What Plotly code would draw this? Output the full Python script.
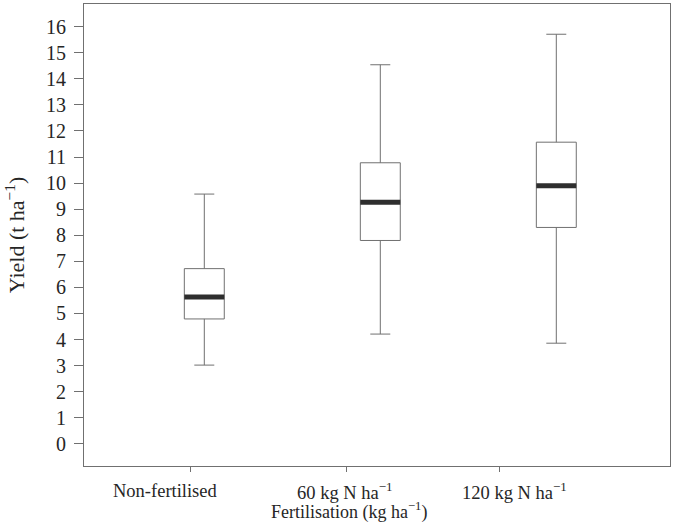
import plotly.graph_objects as go

# Fertilisation treatments and yield summary statistics (t ha-1)
categories = ["Non-fertilised", "60 kg N ha<sup>−1</sup>", "120 kg N ha<sup>−1</sup>"]
lower_whisker = [3.02, 4.21, 3.86]
q1 = [4.79, 7.80, 8.30]
median = [5.63, 9.27, 9.90]
q3 = [6.72, 10.78, 11.57]
upper_whisker = [9.58, 14.54, 15.71]
y_ticks = list(range(0, 17))

FONT = "Liberation Serif, Times New Roman, serif"
TEXT = "#262626"
LINE = "#707070"
BOX_W = 0.227
positions = list(range(len(categories)))
# axis tick marks and their labels sit slightly apart from the box centres
tick_offsets = [-0.08, -0.193, -0.324]
label_offsets = [-0.223, -0.206, -0.235]
tick_pos = [p + o for p, o in zip(positions, tick_offsets)]
label_pos = [p + o for p, o in zip(positions, label_offsets)]

fig = go.Figure()
fig.add_trace(go.Box(
    x=positions,
    q1=q1, median=median, q3=q3,
    lowerfence=lower_whisker, upperfence=upper_whisker,
    width=BOX_W, whiskerwidth=0.5,
    fillcolor="white",
    line=dict(color=LINE, width=1),
    boxpoints=False,
    showlegend=False,
    hoverinfo="skip",
))

# thick median bars
mx, my = [], []
for p, m in zip(positions, median):
    mx += [p - BOX_W / 2, p + BOX_W / 2, None]
    my += [m, m, None]
fig.add_trace(go.Scatter(
    x=mx, y=my, mode="lines",
    line=dict(color="#2e2e2e", width=5),
    showlegend=False, hoverinfo="skip",
))

annotations = [dict(
    text=name, x=pos, y=-0.054,
    xref="x", yref="paper",
    xanchor="center", yanchor="middle", showarrow=False,
    font=dict(family=FONT, size=18.5, color=TEXT),
) for name, pos in zip(categories, label_pos)]
annotations.append(dict(
    text="Fertilisation (kg ha<sup>−1</sup>)",
    xref="paper", yref="paper", x=0.452, y=-0.098,
    xanchor="center", yanchor="middle", showarrow=False,
    font=dict(family=FONT, size=18, color=TEXT),
))

fig.update_layout(
    width=674, height=523,
    margin=dict(l=84, r=4, t=4, b=57),
    paper_bgcolor="white", plot_bgcolor="white",
    font=dict(family=FONT, size=17, color=TEXT),
    xaxis=dict(
        range=[-0.6835, 2.646],
        tickmode="array", tickvals=tick_pos, showticklabels=False,
        ticks="outside", ticklen=5, tickcolor=LINE,
        showline=True, linecolor=LINE, linewidth=1, mirror=True,
        showgrid=False, zeroline=False,
    ),
    yaxis=dict(
        range=[-0.85, 16.87],
        tickmode="array", tickvals=y_ticks,
        ticks="outside", ticklen=9, tickcolor=LINE,
        ticklabelstandoff=4,
        showline=True, linecolor=LINE, linewidth=1, mirror=True,
        showgrid=False, zeroline=False,
        tickfont=dict(family=FONT, size=20, color=TEXT),
        title=dict(text="Yield (t ha<sup>−1</sup>)", font=dict(family=FONT, size=22, color=TEXT), standoff=15),
    ),
    annotations=annotations,
)

fig.write_html("out.html")
